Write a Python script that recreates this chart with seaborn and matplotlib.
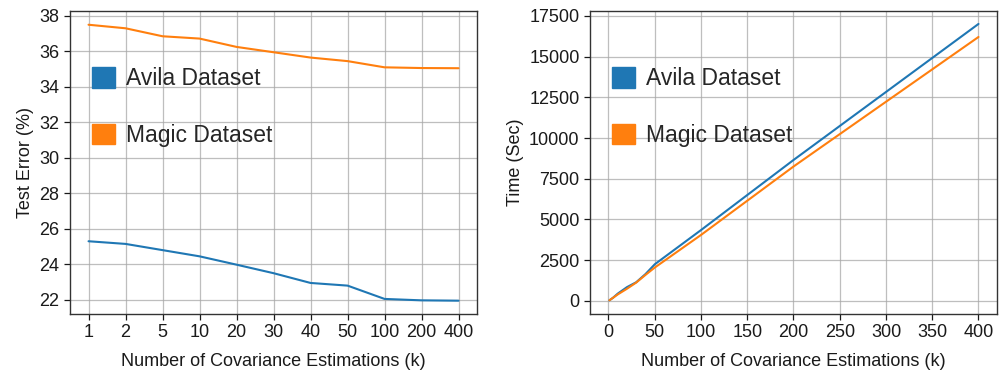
import numpy as np
import pandas as pd
import matplotlib
matplotlib.use("Agg")
import matplotlib.pyplot as plt
import seaborn as sns
from matplotlib.patches import Patch

k_values = [1, 2, 5, 10, 20, 30, 40, 50, 100, 200, 400]
k_labels = ["1", "2", "5", "10", "20", "30", "40", "50", "100", "200", "400"]
avila_error = [25.3, 25.15, 24.8, 24.45, 23.98, 23.5, 22.95, 22.8, 22.05, 21.97, 21.95]
magic_error = [37.5, 37.3, 36.85, 36.72, 36.25, 35.95, 35.65, 35.45, 35.1, 35.06, 35.05]
avila_time = [40, 80, 200, 450, 850, 1150, 1650, 2250, 4350, 8650, 17000]
magic_time = [40, 80, 200, 400, 750, 1130, 1600, 2050, 4050, 8250, 16200]
series_names = ["Avila Dataset", "Magic Dataset"]
colors = ["#1f77b4", "#ff7f0e"]

sns.set_style("white")
plt.rcParams["font.family"] = ["Liberation Sans", "DejaVu Sans"]

err_df = pd.DataFrame({
    "pos": list(range(len(k_values))) * 2,
    "value": avila_error + magic_error,
    "series": [series_names[0]] * len(k_values) + [series_names[1]] * len(k_values),
})
time_df = pd.DataFrame({
    "k": k_values * 2,
    "value": avila_time + magic_time,
    "series": [series_names[0]] * len(k_values) + [series_names[1]] * len(k_values),
})

fig = plt.figure(figsize=(10.02, 3.74), dpi=100)
ax1 = fig.add_axes([0.0699, 0.1604, 0.4062, 0.810])
ax2 = fig.add_axes([0.5888, 0.1604, 0.4062, 0.810])

pal = dict(zip(series_names, colors))
sns.lineplot(data=err_df, x="pos", y="value", hue="series", palette=pal, ax=ax1, linewidth=1.5, legend=False)
sns.lineplot(data=time_df, x="k", y="value", hue="series", palette=pal, ax=ax2, linewidth=1.5, legend=False)

ax1.set_xticks(range(len(k_values)))
ax1.set_xticklabels(k_labels)
ax1.set_xlim(-0.5, len(k_values) - 0.5)
ax1.set_ylim(21.2, 38.27)
ax1.set_yticks(np.arange(22, 39, 2))
ax1.set_ylabel("Test Error (%)", fontsize=13, color="#1a1a1a")
ax1.set_xlabel("Number of Covariance Estimations (k)", fontsize=13, color="#1a1a1a", labelpad=8)

ax2.set_xlim(-20, 420)
ax2.set_xticks(np.arange(0, 401, 50))
ax2.set_ylim(-800, 17790)
ax2.set_yticks(np.arange(0, 17501, 2500))
ax2.set_ylabel("Time (Sec)", fontsize=13, color="#1a1a1a")
ax2.set_xlabel("Number of Covariance Estimations (k)", fontsize=13, color="#1a1a1a", labelpad=8)

for ax in (ax1, ax2):
    ax.grid(True, color="#a8a8a8", linewidth=0.9, alpha=0.75)
    ax.set_axisbelow(True)
    ax.tick_params(axis="both", which="major", labelsize=13, length=4, width=0.9,
                   direction="out", colors="#1a1a1a", bottom=True, left=True)
    for s in ax.spines.values():
        s.set_visible(True)
        s.set_color("#333333")
        s.set_linewidth(1.0)
    handles = [Patch(facecolor=c, edgecolor=c) for c in colors]
    ax.legend(handles, series_names, loc="upper left", bbox_to_anchor=(0.02, 0.86),
              frameon=False, fontsize=16.5, handlelength=1.0, handleheight=1.0,
              labelspacing=1.45, handletextpad=0.5, borderaxespad=0.2)

fig.savefig("out.png", dpi=100)
